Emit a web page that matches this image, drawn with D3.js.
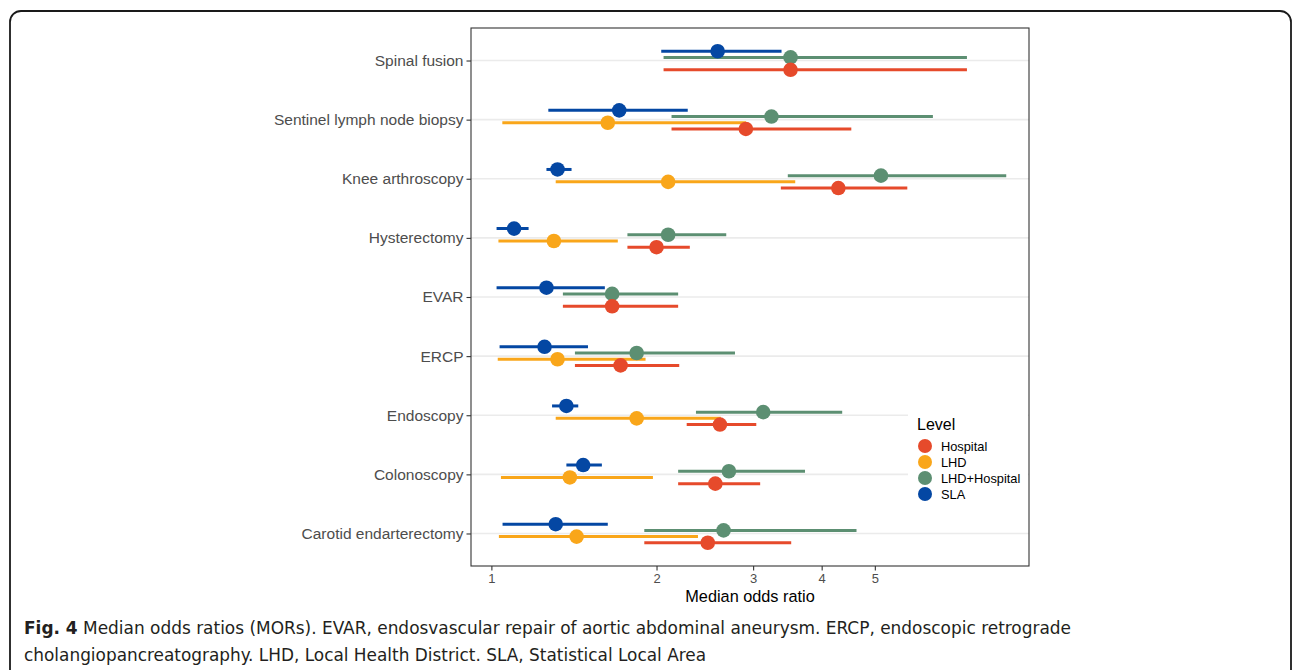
<!DOCTYPE html>
<html>
<head>
<meta charset="utf-8">
<script src="https://cdn.jsdelivr.net/npm/d3@7"></script>
<style>
  html, body { margin: 0; padding: 0; background: #fff; }
  svg { display: block; }
</style>
</head>
<body>
<svg id="chart" width="1293" height="670"></svg>
<script>
// ---------- data ----------
const categories = ["Spinal fusion", "Sentinel lymph node biopsy", "Knee arthroscopy", "Hysterectomy",
  "EVAR", "ERCP", "Endoscopy", "Colonoscopy", "Carotid endarterectomy"];

const levels = ["Hospital", "LHD", "LHD+Hospital", "SLA"];
const levelColors = ["#e64a2b", "#f9a61a", "#5c8f72", "#0447a3"];

const hospitalMOR = [3.51, 2.91, 4.29, 2.00, 1.66, 1.72, 2.61, 2.56, 2.48];
const hospitalLo  = [2.06, 2.13, 3.37, 1.77, 1.35, 1.42, 2.27, 2.19, 1.90];
const hospitalHi  = [7.36, 4.53, 5.73, 2.30, 2.19, 2.20, 3.04, 3.09, 3.52];

const lhdMOR = [null, 1.63, 2.10, 1.30, null, 1.32, 1.84, 1.39, 1.43];
const lhdLo  = [null, 1.047, 1.31, 1.03, null, 1.027, 1.31, 1.041, 1.032];
const lhdHi  = [null, 2.91, 3.58, 1.70, null, 1.91, 2.62, 1.97, 2.38];

const lhdHospMOR = [3.51, 3.24, 5.13, 2.10, 1.66, 1.84, 3.13, 2.71, 2.65];
const lhdHospLo  = [2.06, 2.13, 3.47, 1.77, 1.35, 1.42, 2.36, 2.19, 1.90];
const lhdHospHi  = [7.36, 6.38, 8.68, 2.68, 2.19, 2.78, 4.36, 3.73, 4.63];

const slaMOR = [2.585, 1.71, 1.32, 1.10, 1.26, 1.25, 1.37, 1.47, 1.31];
const slaLo  = [2.04, 1.27, 1.26, 1.022, 1.022, 1.035, 1.29, 1.37, 1.048];
const slaHi  = [3.38, 2.28, 1.40, 1.169, 1.61, 1.50, 1.44, 1.59, 1.63];

const xTicks = [1, 2, 3, 4, 5];
const xDomain = [0.918, 9.55];

const captionBold = "Fig. 4";
const captionLine1 = " Median odds ratios (MORs). EVAR, endosvascular repair of aortic abdominal aneurysm. ERCP, endoscopic retrograde";
const captionLine2 = "cholangiopancreatography. LHD, Local Health District. SLA, Statistical Local Area";

// ---------- build rows ----------
const seriesMOR = [hospitalMOR, lhdMOR, lhdHospMOR, slaMOR];
const seriesLo = [hospitalLo, lhdLo, lhdHospLo, slaLo];
const seriesHi = [hospitalHi, lhdHi, lhdHospHi, slaHi];

const rows = [];
levels.forEach((lev, li) => {
  categories.forEach((cat, ci) => {
    if (seriesMOR[li][ci] != null) {
      rows.push({ level: lev, li, cat, mor: seriesMOR[li][ci], lo: seriesLo[li][ci], hi: seriesHi[li][ci] });
    }
  });
});
// draw order: SLA first, Hospital last (on top)
rows.sort((a, b) => b.li - a.li);

// ---------- layout ----------
const svg = d3.select("#chart");
const panel = { left: 471, right: 1029, top: 28, bottom: 566 };
const axisFont = "'Liberation Sans', Arial, Helvetica, sans-serif";

const x = d3.scaleLog().domain(xDomain).range([panel.left, panel.right]);
const y = d3.scalePoint().domain(categories).range([panel.top, panel.bottom]).padding(0.55);
const color = d3.scaleOrdinal().domain(levels).range(levelColors);
const dodge = d3.scalePoint().domain(["SLA", "LHD+Hospital", "LHD", "Hospital"]).range([-9.3, 9.3]);

// outer rounded frame
svg.append("rect")
  .attr("x", 10).attr("y", 11).attr("width", 1281).attr("height", 720)
  .attr("rx", 11).attr("ry", 11)
  .attr("fill", "none").attr("stroke", "#1a1a1a").attr("stroke-width", 1.8);

// panel background
svg.append("rect")
  .attr("x", panel.left).attr("y", panel.top)
  .attr("width", panel.right - panel.left).attr("height", panel.bottom - panel.top)
  .attr("fill", "#fff");

// gridlines (horizontal)
svg.append("g").selectAll("line").data(categories).join("line")
  .attr("x1", panel.left).attr("x2", panel.right)
  .attr("y1", d => y(d)).attr("y2", d => y(d))
  .attr("stroke", "#ebebeb").attr("stroke-width", 1.6);

// legend background (covers gridlines as in reference)
svg.append("rect")
  .attr("x", 908).attr("y", 404).attr("width", 120).attr("height", 102)
  .attr("fill", "#fff");

// error bars
svg.append("g").selectAll("line").data(rows).join("line")
  .attr("x1", d => x(d.lo)).attr("x2", d => x(d.hi))
  .attr("y1", d => y(d.cat) + dodge(d.level)).attr("y2", d => y(d.cat) + dodge(d.level))
  .attr("stroke", d => color(d.level)).attr("stroke-width", 3);

// points
svg.append("g").selectAll("circle").data(rows).join("circle")
  .attr("cx", d => x(d.mor)).attr("cy", d => y(d.cat) + dodge(d.level))
  .attr("r", 7.3)
  .attr("fill", d => color(d.level));

// panel border
svg.append("rect")
  .attr("x", panel.left).attr("y", panel.top)
  .attr("width", panel.right - panel.left).attr("height", panel.bottom - panel.top)
  .attr("fill", "none").attr("stroke", "#333").attr("stroke-width", 1.1);

// axes
const xAxis = d3.axisBottom(x).tickValues(xTicks).tickFormat(d3.format("d")).tickSize(4.5).tickPadding(3);
const gx = svg.append("g").attr("transform", `translate(0,${panel.bottom})`).call(xAxis);
gx.select(".domain").remove();
gx.selectAll(".tick line").attr("stroke", "#333").attr("stroke-width", 1.1);
gx.selectAll(".tick text").attr("fill", "#4d4d4d").style("font-family", axisFont).style("font-size", "13px");

const yAxis = d3.axisLeft(y).tickSize(4.5).tickPadding(3);
const gy = svg.append("g").attr("transform", `translate(${panel.left},0)`).call(yAxis);
gy.select(".domain").remove();
gy.selectAll(".tick line").attr("stroke", "#333").attr("stroke-width", 1.1);
gy.selectAll(".tick text").attr("fill", "#4d4d4d").style("font-family", axisFont).style("font-size", "15.5px");

// x axis title
svg.append("text")
  .attr("x", (panel.left + panel.right) / 2).attr("y", 602)
  .attr("text-anchor", "middle")
  .style("font-family", axisFont).style("font-size", "16.3px")
  .attr("fill", "#000").text("Median odds ratio");

// legend
const lg = svg.append("g");
lg.append("text").attr("x", 917).attr("y", 430)
  .style("font-family", axisFont).style("font-size", "16px")
  .attr("fill", "#000").text("Level");
levels.forEach((lev, i) => {
  const cy = 446 + i * 16;
  lg.append("circle").attr("cx", 925).attr("cy", cy).attr("r", 7).attr("fill", color(lev));
  lg.append("text").attr("x", 941).attr("y", cy + 4.5)
    .style("font-family", axisFont).style("font-size", "12.8px")
    .attr("fill", "#000").text(lev);
});

// caption
const capFont = "'Liberation Sans Narrow', 'DejaVu Sans Condensed', 'Open Sans', sans-serif";
const c1 = svg.append("text").attr("x", 24).attr("y", 634)
  .attr("textLength", 1047).attr("lengthAdjust", "spacingAndGlyphs")
  .style("font-family", capFont).style("font-size", "18px").attr("fill", "#231f20");
c1.append("tspan").style("font-weight", "bold").text(captionBold);
c1.append("tspan").text(captionLine1);
svg.append("text").attr("x", 24).attr("y", 661)
  .attr("textLength", 682).attr("lengthAdjust", "spacingAndGlyphs")
  .style("font-family", capFont).style("font-size", "18px").attr("fill", "#231f20")
  .text(captionLine2);
</script>
</body>
</html>
